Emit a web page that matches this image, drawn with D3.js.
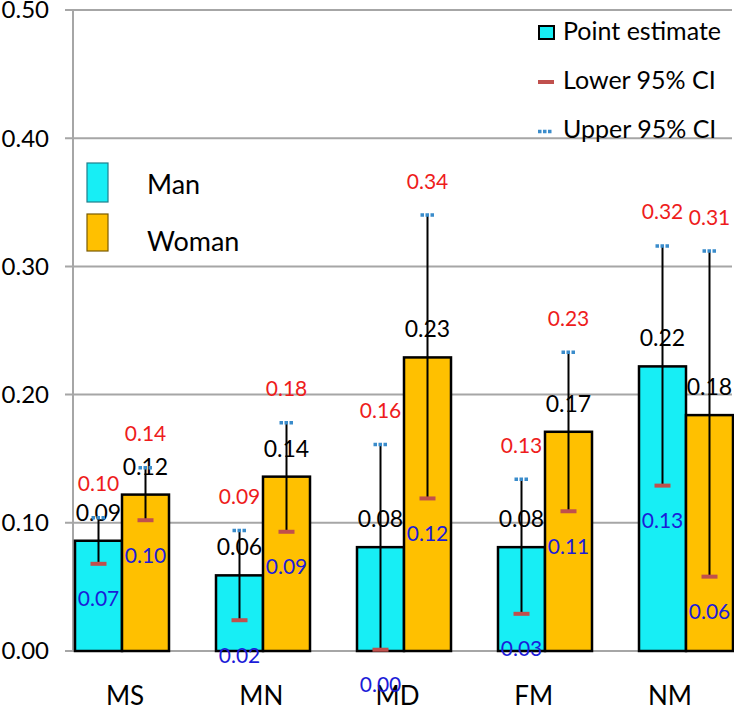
<!DOCTYPE html>
<html>
<head>
<meta charset="utf-8">
<script src="https://cdn.jsdelivr.net/npm/d3@7"></script>
<style>
  html, body { margin: 0; padding: 0; background: #fff; }
  svg { display: block; }
  text { font-family: Lato, "Open Sans", sans-serif; }
</style>
</head>
<body>
<svg id="chart" width="734" height="710"></svg>
<script>
// ---- data ----
const categories = ["MS", "MN", "MD", "FM", "NM"];
const groups = ["Man", "Woman"];
const manPoint   = [0.086, 0.059, 0.081, 0.081, 0.222];
const manLower   = [0.068, 0.024, 0.001, 0.029, 0.129];
const manUpper   = [0.104, 0.094, 0.161, 0.134, 0.316];
const womanPoint = [0.122, 0.136, 0.229, 0.171, 0.184];
const womanLower = [0.102, 0.093, 0.119, 0.109, 0.058];
const womanUpper = [0.143, 0.178, 0.340, 0.233, 0.312];
const yTicks = [0, 0.1, 0.2, 0.3, 0.4, 0.5];
const ciLegend = ["Point estimate", "Lower 95% CI", "Upper 95% CI"];

const series = {
  Man:   { point: manPoint,   lower: manLower,   upper: manUpper },
  Woman: { point: womanPoint, lower: womanLower, upper: womanUpper }
};
const rows = [];
categories.forEach((c, i) => groups.forEach(g => rows.push({
  cat: c, grp: g, point: series[g].point[i], lower: series[g].lower[i], upper: series[g].upper[i]
})));

// ---- style ----
const fillColor = { Man: "#17EEF5", Woman: "#FFC000" };
const legendStroke = { Man: "#1F7F8C", Woman: "#7A5A00" };
const gridColor = "#A6A6A6";
const redLab = "#EE1C1C";
const blueLab = "#1C1CD8";
const lowerCap = "#C0504D";
const upperCap = "#3A8CCB";
const fmt = d3.format(".2f");

const svg = d3.select("#chart");
const y = d3.scaleLinear().domain([0, 0.5]).range([651, 10]);
const x = d3.scaleBand().domain(categories).range([51.5, 756.5]).paddingInner(1/3).paddingOuter(1/6);
const xs = d3.scaleBand().domain(groups).range([0, x.bandwidth()]);
const xLab = d3.scalePoint().domain(categories).range([125, 670]);
const axisX = 73, gridRight = 732;

// gridlines + ticks
svg.append("g").selectAll("line").data(yTicks).join("line")
  .attr("x1", axisX - 8).attr("x2", gridRight)
  .attr("y1", d => y(d)).attr("y2", d => y(d))
  .attr("stroke", gridColor).attr("stroke-width", 2);
svg.append("line").attr("x1", axisX).attr("x2", axisX)
  .attr("y1", y(0.5)).attr("y2", y(0))
  .attr("stroke", gridColor).attr("stroke-width", 2);
svg.append("g").selectAll("text").data(yTicks).join("text")
  .attr("x", 49).attr("y", d => y(d)).attr("dy", "0.35em")
  .attr("text-anchor", "end").attr("font-size", 24).attr("fill", "#000")
  .text(d => fmt(d));

// category labels
svg.append("g").selectAll("text").data(categories).join("text")
  .attr("x", d => xLab(d)).attr("y", 705)
  .attr("text-anchor", "middle").attr("font-size", 26).attr("fill", "#000")
  .text(d => d);

const cx = d => x(d.cat) + xs(d.grp) + xs.bandwidth() / 2;

// bars
svg.append("g").selectAll("rect").data(rows).join("rect")
  .attr("x", d => x(d.cat) + xs(d.grp))
  .attr("y", d => y(d.point))
  .attr("width", xs.bandwidth())
  .attr("height", d => y(0) - y(d.point))
  .attr("fill", d => fillColor[d.grp])
  .attr("stroke", "#000").attr("stroke-width", 2.5);

// labels
const lab = svg.append("g");
lab.selectAll("text.pt").data(rows).join("text").attr("class", "pt")
  .attr("x", cx).attr("y", d => y(d.point) - 20)
  .attr("text-anchor", "middle").attr("font-size", 23).attr("fill", "#000")
  .text(d => fmt(d.point));
lab.selectAll("text.up").data(rows).join("text").attr("class", "up")
  .attr("x", cx).attr("y", d => y(d.upper) - 26.5)
  .attr("text-anchor", "middle").attr("font-size", 21).attr("fill", redLab)
  .text(d => fmt(d.upper));
lab.selectAll("text.lo").data(rows).join("text").attr("class", "lo")
  .attr("x", cx).attr("y", d => y(d.lower) + 42.5)
  .attr("text-anchor", "middle").attr("font-size", 21).attr("fill", blueLab)
  .text(d => fmt(d.lower));

// error bars
const eb = svg.append("g");
eb.selectAll("line.stem").data(rows).join("line").attr("class", "stem")
  .attr("x1", cx).attr("x2", cx)
  .attr("y1", d => y(d.lower)).attr("y2", d => y(d.upper))
  .attr("stroke", "#000").attr("stroke-width", 2);
eb.selectAll("rect.lc").data(rows).join("rect").attr("class", "lc")
  .attr("x", d => cx(d) - 8).attr("y", d => y(d.lower) - 2)
  .attr("width", 16).attr("height", 4).attr("fill", lowerCap);
eb.selectAll("line.uc").data(rows).join("line").attr("class", "uc")
  .attr("x1", d => cx(d) - 7).attr("x2", d => cx(d) + 7)
  .attr("y1", d => y(d.upper)).attr("y2", d => y(d.upper))
  .attr("stroke", upperCap).attr("stroke-width", 3.5)
  .attr("stroke-dasharray", "3.5 1.5");

// right legend (CI)
const lg = svg.append("g");
lg.selectAll("text").data(ciLegend).join("text")
  .attr("x", 563).attr("y", (d, i) => 40 + i * 49)
  .attr("font-size", 25).attr("fill", "#000").text(d => d);
lg.append("rect").attr("x", 539).attr("y", 26).attr("width", 15).attr("height", 13)
  .attr("fill", fillColor.Man).attr("stroke", "#000").attr("stroke-width", 2);
lg.append("rect").attr("x", 538).attr("y", 80).attr("width", 16).attr("height", 4).attr("fill", lowerCap);
lg.append("line").attr("x1", 538).attr("x2", 553).attr("y1", 131.5).attr("y2", 131.5)
  .attr("stroke", upperCap).attr("stroke-width", 3.5).attr("stroke-dasharray", "3.5 1.5");

// left legend (groups)
const gl = svg.append("g");
gl.selectAll("rect").data(groups).join("rect")
  .attr("x", 87).attr("y", (d, i) => 163 + i * 51)
  .attr("width", 21).attr("height", (d, i) => i === 0 ? 39 : 37)
  .attr("fill", d => fillColor[d]).attr("stroke", d => legendStroke[d]).attr("stroke-width", 1.2);
gl.selectAll("text").data(groups).join("text")
  .attr("x", 147).attr("y", (d, i) => 194 + i * 57)
  .attr("font-size", 27).attr("fill", "#000").text(d => d);
</script>
</body>
</html>
